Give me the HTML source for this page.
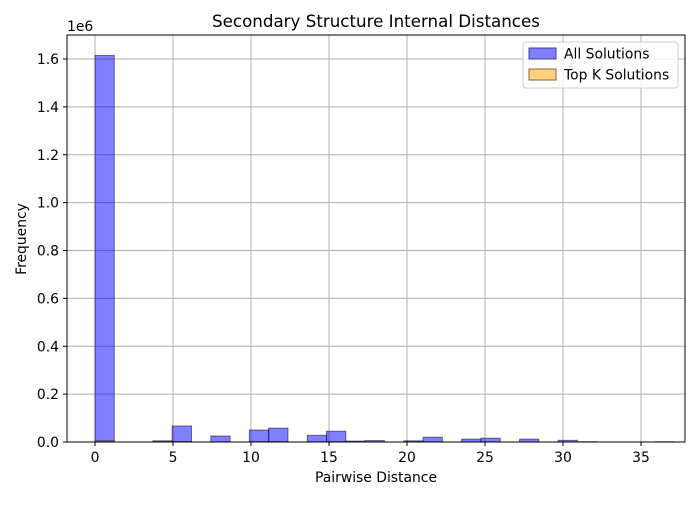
<!DOCTYPE html>
<html><head><meta charset="utf-8"><style>
body{margin:0;background:#fff;font-family:"Liberation Sans","DejaVu Sans",sans-serif}
svg text{font-family:"DejaVu Sans","Liberation Sans",sans-serif;fill:#000}
</style></head><body>
<svg id="chart" width="700" height="500" viewBox="0 0 700 500">
<text x="376" y="27" font-size="16.7" text-anchor="middle">Secondary Structure Internal Distances</text>
<g id="grid"></g>
<g id="bars"></g>
<rect x="67" y="35" width="618" height="407" fill="none" stroke="#000" stroke-width="1"/>
<g id="axes"></g>
<text x="67" y="31" font-size="13.9">1e6</text>
<text x="376" y="482" font-size="13.9" text-anchor="middle">Pairwise Distance</text>
<text x="26" y="239" font-size="13.9" text-anchor="middle" transform="rotate(-90 26 239)">Frequency</text>
<g>
<rect x="523" y="42" width="155" height="46" rx="3" fill="#fff" fill-opacity="0.8" stroke="#ccc"/>
<rect x="529" y="48" width="27" height="11" fill="#8080ff" stroke="#40408a"/>
<text x="564" y="58.5" font-size="13.9">All Solutions</text>
<rect x="529" y="69" width="27" height="11" fill="#ffd080" stroke="#806840"/>
<text x="564" y="79.5" font-size="13.9">Top K Solutions</text>
</g>
</svg>
<script>
const binWidth = 1.237;
const allCounts = [1615000,0,0,5000,67000,0,25000,0,50000,58000,0,28000,45000,4000,6000,0,5000,20000,0,12000,16000,0,12000,0,7000,1000,0,0,0,1000];
const topCounts = [5000,0,0,500,1500,0,600,0,1200,1400,0,700,1000,100,150,0,100,500,0,300,400,0,300,0,150,0,0,0,0,0];
const xTicks = [0,5,10,15,20,25,30,35];
const yTicks = [0,0.2,0.4,0.6,0.8,1.0,1.2,1.4,1.6];
const NS='http://www.w3.org/2000/svg';
const X = v => 95 + v*15.6;
const Y = v => 442 - v*(383/1.6e6);
function mk(t,a,p){const e=document.createElementNS(NS,t);for(const k in a)e.setAttribute(k,a[k]);p.appendChild(e);return e;}
const grid=document.getElementById('grid'),bars=document.getElementById('bars'),axes=document.getElementById('axes');
xTicks.forEach(t=>{
  const g=mk('line',{x1:X(t),x2:X(t),y1:35,y2:442,stroke:'#b0b0b0','stroke-width':1},grid);
  
  
  mk('line',{x1:X(t),x2:X(t),y1:442,y2:446,stroke:'#000'},axes);
  const l=mk('text',{x:X(t),y:462,'font-size':13.9,'text-anchor':'middle'},axes);
  l.textContent=t;
  
  
});
yTicks.forEach(t=>{
  const y=Y(t*1e6);
  const g=mk('line',{x1:67,x2:685,y1:y,y2:y,stroke:'#b0b0b0','stroke-width':1},grid);
  
  
  mk('line',{x1:63,x2:67,y1:y,y2:y,stroke:'#000'},axes);
  const l=mk('text',{x:59,y:y+5,'font-size':13.9,'text-anchor':'end'},axes);
  l.textContent=t.toFixed(1);
  
  
});
function drawSeries(arr,fill,stroke,name){
  arr.forEach((c,i)=>{
    if(c<=0)return;
    const x0=X(i*binWidth),x1=X((i+1)*binWidth),y=Y(c);
    const r=mk('rect',{x:x0,y:y,width:x1-x0,height:442-y,fill:fill,stroke:stroke,'stroke-width':1},bars);
    
    
  });
}
drawSeries(allCounts,'rgba(0,0,255,0.5)','rgba(0,0,0,0.5)','all-solutions');
drawSeries(topCounts,'rgba(255,165,0,0.5)','rgba(0,0,0,0.5)','top-k');
</script>
</body></html>
